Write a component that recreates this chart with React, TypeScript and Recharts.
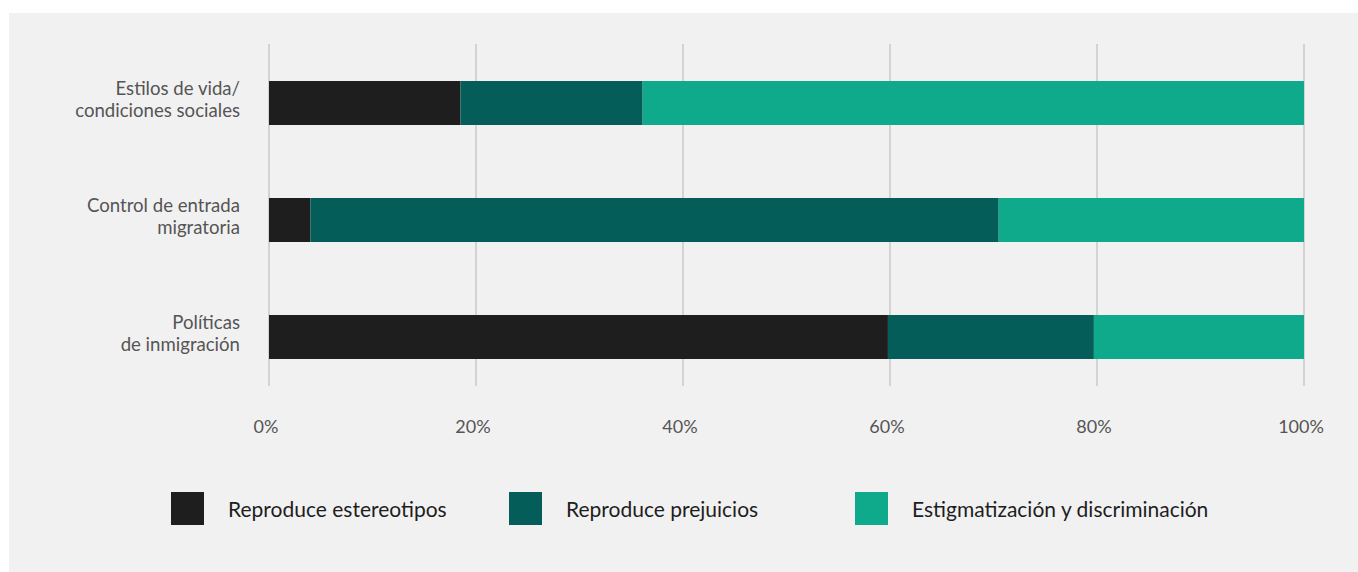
import React from "react";
import { BarChart, Bar, XAxis, YAxis, CartesianGrid, Legend } from "recharts";

const categories = [
  "Estilos de vida/\ncondiciones sociales",
  "Control de entrada\nmigratoria",
  "Políticas\nde inmigración",
];
const estereotipos = [18.5, 4.0, 59.8];
const prejuicios = [17.6, 66.5, 19.9];
const estigmatizacion = [63.9, 29.5, 20.3];
const xTicks = [0, 20, 40, 60, 80, 100];

const series = [
  { key: "estereotipos", name: "Reproduce estereotipos", color: "#1e1e1e" },
  { key: "prejuicios", name: "Reproduce prejuicios", color: "#045d59" },
  { key: "estigmatizacion", name: "Estigmatización y discriminación", color: "#0faa8c" },
];

const data = categories.map((c, i) => ({
  categoria: c,
  estereotipos: estereotipos[i],
  prejuicios: prejuicios[i],
  estigmatizacion: estigmatizacion[i],
}));

const FONT = "Lato, 'Open Sans', sans-serif";

function CategoryTick(props: any) {
  const { x, y, payload } = props;
  const lines = String(payload.value).split("\n");
  return (
    <text x={x} y={y} textAnchor="end" fill="#555555" fontSize={18.6} fontFamily={FONT}>
      {lines.map((l, i) => (
        <tspan key={i} x={x} y={y - 8 + i * 22.3}>
          {l}
        </tspan>
      ))}
    </text>
  );
}

function GridLine(props: any) {
  const { x1, y1, x2, y2 } = props;
  return <line x1={x1} y1={y1} x2={x2} y2={y2 - 9} stroke="#c9c9c9" strokeWidth={1.5} />;
}

function LegendContent() {
  const widths = [338, 346, 460];
  return (
    <div style={{ display: "flex", marginLeft: 162, fontFamily: FONT }}>
      {series.map((s, i) => (
        <div key={s.key} style={{ display: "flex", alignItems: "center", width: widths[i], whiteSpace: "nowrap" }}>
          <div style={{ width: 33, height: 33, background: s.color, marginRight: 24, flexShrink: 0 }} />
          <span style={{ fontSize: 21, color: "#1e1e1e", lineHeight: "24px" }}>{s.name}</span>
        </div>
      ))}
    </div>
  );
}

export default function App() {
  return (
    <div
      style={{
        position: "absolute",
        left: 9,
        top: 13,
        width: 1349,
        height: 559,
        background: "#f1f1f1",
        fontFamily: FONT,
      }}
    >
      <BarChart
        width={1349}
        height={559}
        data={data}
        layout="vertical"
        margin={{ top: 31, right: 54, bottom: 147, left: 0 }}
        barSize={44}
      >
        <XAxis
          type="number"
          domain={[0, 100]}
          ticks={xTicks}
          tickFormatter={(v: number) => `${v}%`}
          axisLine={false}
          tickLine={false}
          tickSize={0}
          tickMargin={25}
          height={30}
          interval={0}
          tick={{ fill: "#555555", fontSize: 18, fontFamily: FONT, dx: -3 }}
        />
        <YAxis
          type="category"
          dataKey="categoria"
          width={260}
          axisLine={false}
          tickLine={false}
          tickSize={0}
          tickMargin={29}
          interval={0}
          tick={<CategoryTick />}
        />
        {series.map((s) => (
          <Bar key={s.key} dataKey={s.key} name={s.name} stackId="a" fill={s.color} isAnimationActive={false} />
        ))}
        <CartesianGrid horizontal={false} vertical={(p: any) => <GridLine key={p.key ?? p.index} {...p} />} />
        <Legend
          layout="horizontal"
          verticalAlign="middle"
          align="center"
          wrapperStyle={{ top: 479, left: 0, width: 1349 }}
          content={<LegendContent />}
        />
      </BarChart>
    </div>
  );
}
